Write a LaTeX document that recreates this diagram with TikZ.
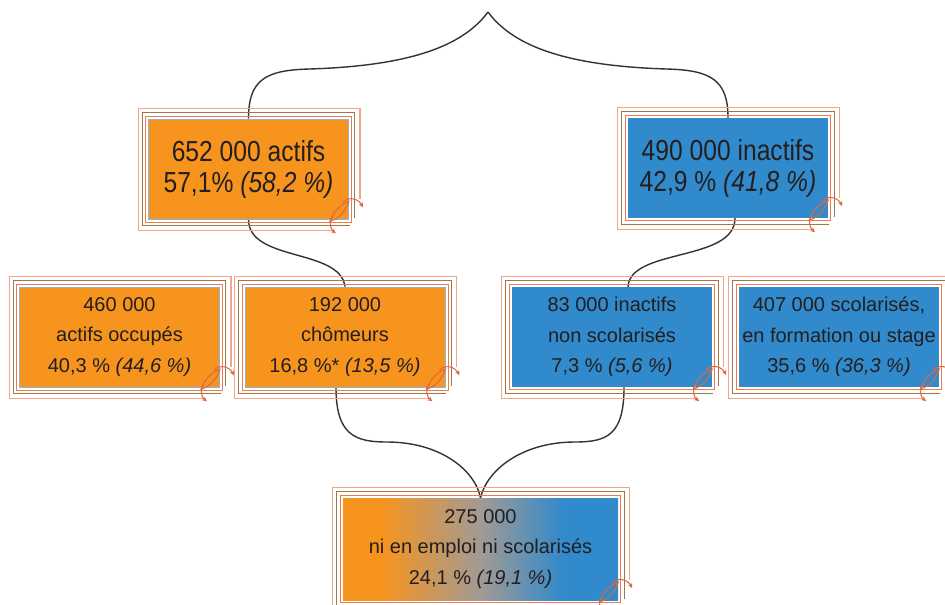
\documentclass[tikz,border=0pt]{standalone}
\usepackage{fontspec}
\setmainfont{Liberation Sans}
\newfontfamily\bigfont{Liberation Sans}[FakeStretch=0.85]
\usetikzlibrary{arrows.meta}
\definecolor{orng}{HTML}{F7941E}
\definecolor{blu}{HTML}{318ACB}
\definecolor{midg}{HTML}{A29A94}
\definecolor{txt}{HTML}{231F20}
\definecolor{outsal}{HTML}{F4A487}
\definecolor{insal}{HTML}{EE7A4E}
\definecolor{brwn}{HTML}{9A7850}
\definecolor{ornc}{HTML}{E2663A}
\definecolor{lblue}{HTML}{8AB4DC}
\definecolor{conn}{HTML}{333333}
\pgfdeclarehorizontalshading{oblend}{100bp}{color(0bp)=(orng); color(32bp)=(orng); color(50bp)=(midg); color(65bp)=(blu); color(100bp)=(blu)}
\pgfdeclarelayer{bg}
\pgfsetlayers{bg,main}
\tikzset{
  bigbox/.style={minimum width=200pt, minimum height=100pt, inner sep=0pt, align=center, text=txt, font=\bigfont\fontsize{29}{31}\selectfont},
  smallbox/.style={minimum width=200pt, minimum height=100pt, inner sep=0pt, align=center, text=txt, font=\fontsize{20}{30.5}\selectfont},
  orfill/.style={fill=orng, draw=lblue, line width=0.8pt},
  blfill/.style={fill=blu},
  conline/.style={draw=conn, line width=1.4pt},
  inline/.style={draw=insal, line width=0.8pt},
  brline/.style={draw=brwn, line width=0.9pt},
  outline/.style={draw=outsal, line width=1.2pt},
  orn/.style={draw=ornc, line width=1pt},
  ornarrow/.style={orn, -{Stealth[length=5pt,width=4.5pt]}}
}
\newcommand\statframe[1]{%
  \draw[inline] ([shift={(-2.5,-2.5)}]#1.north west) rectangle ([shift={(2.5,2.5)}]#1.south east);
  \draw[brline] ([shift={(6,-1)}]#1.south east) -- ([shift={(6,-6)}]#1.north east) -- ([shift={(-6,-6)}]#1.north west) -- ([shift={(-6,6)}]#1.south west) -- ([shift={(1,6)}]#1.south east);
  \draw[outline] ([shift={(11,-20)}]#1.south east) -- ([shift={(11,-10)}]#1.north east) -- ([shift={(-10,-10)}]#1.north west) -- ([shift={(-10,11)}]#1.south west) -- ([shift={(-15,11)}]#1.south east);
  \begin{scope}[shift={(#1.south east)}]
    \draw[orn] (-19,2) .. controls (-15,-9) and (-8,-15) .. (0,-18) .. controls (-4,-7) and (-10,-1) .. cycle;
    \draw[ornarrow] (-6,-17) .. controls (0,-24) and (10,-20) .. (14,-12);
    \draw[ornarrow] (-16,-3) .. controls (-21,3) and (-18,10) .. (-13,14);
  \end{scope}
}
\begin{document}
\begin{tikzpicture}[x=1pt,y=-1pt]
\useasboundingbox (0,0) rectangle (945,605);
% boxes
\node[bigbox, orfill] (A) at (248.5,169) {652 000 actifs\\57,1\% {\itshape(58,2 \%)}};
\node[bigbox, blfill] (B) at (728,168) {490 000 inactifs\\42,9 \% {\itshape(41,8 \%)}};
\node[smallbox, orfill] (C) at (119.5,337) {460 000\\actifs occupés\\40,3 \% {\itshape(44,6 \%)}};
\node[smallbox, orfill] (D) at (345,337) {192 000\\chômeurs\\16,8 \%* {\itshape(13,5 \%)}};
\node[smallbox, blfill] (E) at (612,337) {83 000 inactifs\\non scolarisés\\7,3 \% {\itshape(5,6 \%)}};
\node[smallbox, blfill] (F) at (839,337) {407 000 scolarisés,\\en formation ou stage\\35,6 \% {\itshape(36,3 \%)}};
\node[smallbox, minimum width=275pt, minimum height=102pt, shade, shading=oblend] (G) at (480.5,549) {275 000\\ni en emploi ni scolarisés\\24,1 \% {\itshape(19,1 \%)}};
\foreach \n in {A,B,C,D,E,F,G} {\statframe{\n}}
\coordinate (apex) at (488,12);
% connectors
\begin{pgfonlayer}{bg}
\draw[conline] (A.north) .. controls (248.5,80) and (265,70) .. (310,69) .. controls (400,66) and (460,50) .. (apex);
\draw[conline] (B.north) .. controls (728,80) and (711,70) .. (666,69) .. controls (576,66) and (516,50) .. (apex);
\draw[conline] (A.south) .. controls (248.5,262) and (340,248) .. (D.north);
\draw[conline] ([xshift=7pt]B.south) .. controls (735,262) and (630,248) .. ([xshift=16pt]E.north);
\draw[conline] ([xshift=-9pt]D.south) .. controls (336,435) and (355,442) .. (387,442) .. controls (440,442) and (475,470) .. (G.north);
\draw[conline] ([xshift=12pt]E.south) .. controls (624,435) and (607,442) .. (575,442) .. controls (522,442) and (487,470) .. (G.north);
\end{pgfonlayer}
\end{tikzpicture}
\end{document}
